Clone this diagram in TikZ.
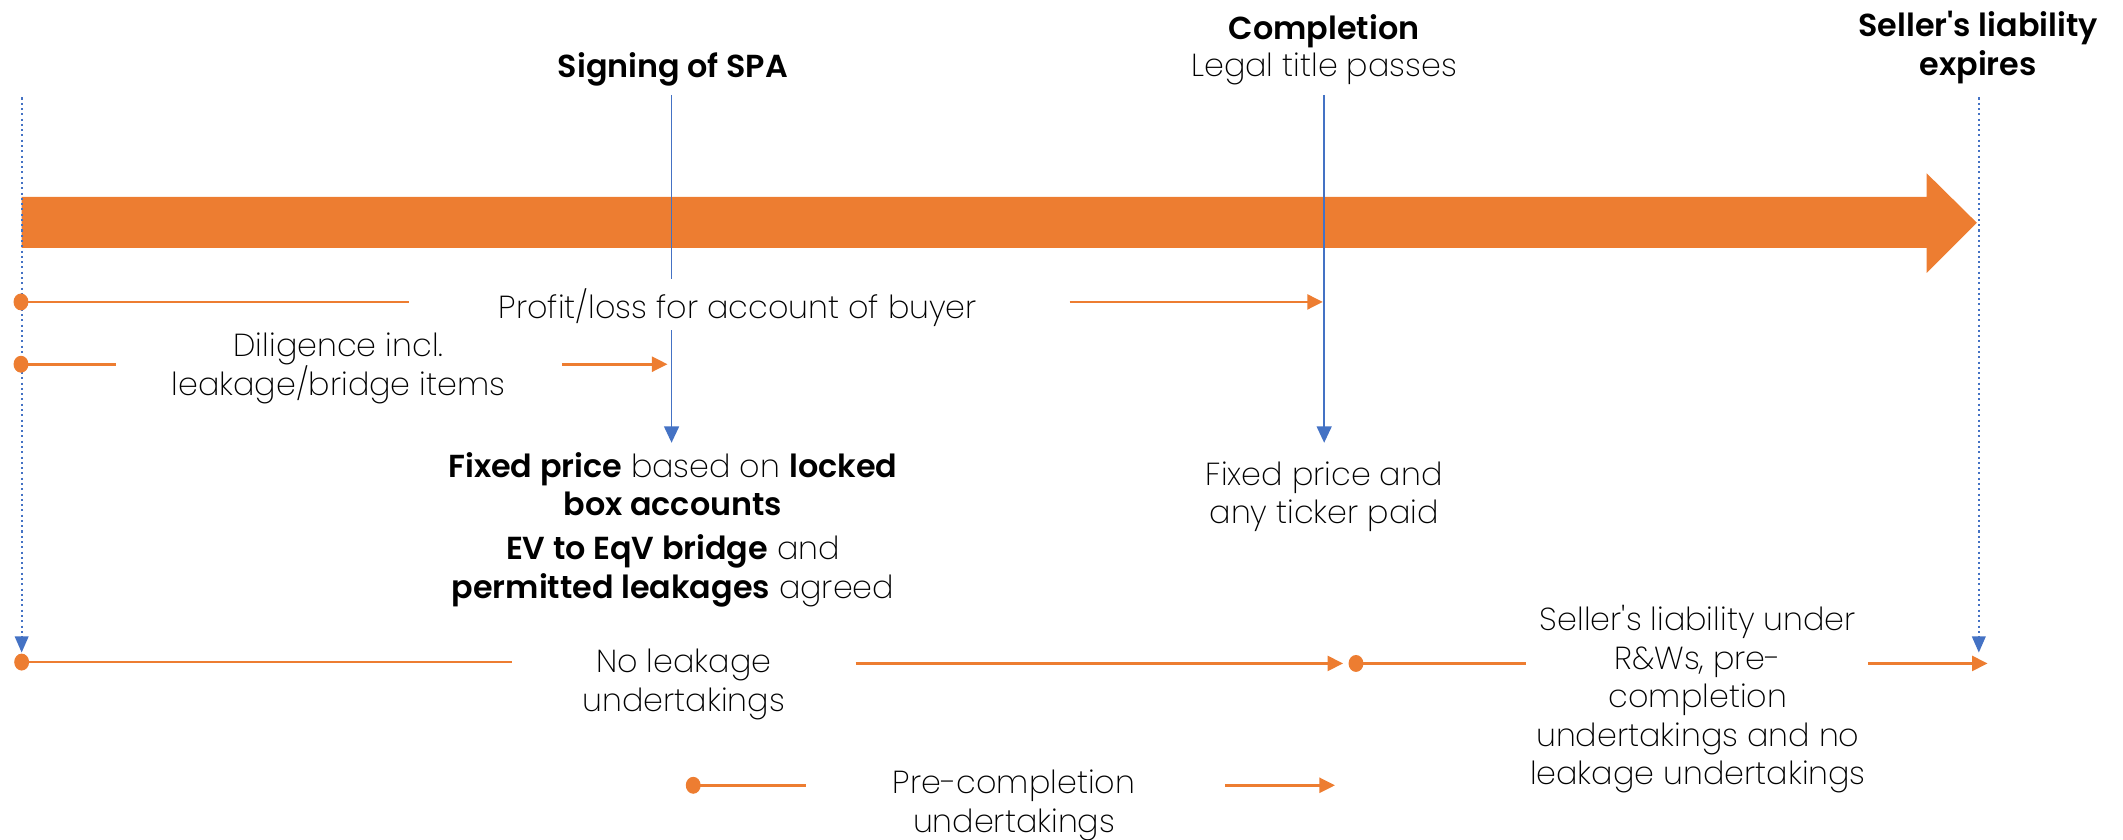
\documentclass[tikz,border=0pt]{standalone}
\usepackage{fontspec}
\setmainfont{Poppins}[UprightFont=* ExtraLight, BoldFont=* SemiBold, Ligatures=TeXOff]
\usetikzlibrary{arrows.meta,shapes.geometric}
\definecolor{tlorange}{HTML}{ED7D31}
\definecolor{tlblue}{HTML}{4472C4}
\begin{document}
\begin{tikzpicture}[x=1pt,y=-1pt,
  txt/.style={align=center,inner sep=0pt,font=\fontsize{23.5}{28.5}\selectfont,text=black},
  oline/.style={draw=tlorange,line width=2pt},
  oarrow/.style={oline,-{Triangle[length=11.5pt,width=11pt]}},
  odot/.style={fill=tlorange,ellipse,minimum width=11pt,minimum height=12.5pt,inner sep=0pt},
  bline/.style={draw=tlblue,line width=1.1pt},
  barrow/.style={bline,-{Triangle[length=12pt,width=11pt]}},
  bdotted/.style={draw=tlblue,line width=1.6pt,dash pattern=on 1.5pt off 2.4pt,-{Triangle[length=12pt,width=10pt]}}]
\useasboundingbox (0,0) rectangle (1568,620);
% main timeline arrow
\fill[tlorange] (16,145.5) -- (1423,145.5) -- (1423,128) -- (1460,164.5) -- (1423,201.5) -- (1423,183) -- (16,183) -- cycle;
% headings
\node[txt] (sign) at (497,51) {\textbf{Signing of SPA}};
\node[txt] (comp) at (978,23) {\textbf{Completion}};
\node[txt] (legal) at (978,51) {Legal title passes};
\node[txt] (expire) at (1461,35) {\textbf{Seller's liability}\\\textbf{expires}};
% texts
\node[txt] (profit) at (545,227.5) {Profit/loss for account of buyer};
\node[txt] (dilig) at (250,272) {Diligence incl.\\leakage/bridge items};
\node[txt] (fixed) at (497,357.5) {\textbf{Fixed price} based on \textbf{locked}\\\textbf{box accounts}};
\node[txt] (bridge) at (497,421.5) {\textbf{EV to EqV bridge} and\\\textbf{permitted leakages} agreed};
\node[txt] (ticker) at (978,367) {Fixed price and\\any ticker paid};
\node[txt] (noleak) at (505,505.5) {No leakage\\undertakings};
\node[txt] (liab) at (1254,516.5) {Seller's liability under\\R\&Ws, pre-\\completion\\undertakings and no\\leakage undertakings};
\node[txt] (precomp) at (749,595) {Pre-completion\\undertakings};
% coordinates
\coordinate (lt) at (16,72);   \coordinate (lb) at (16,482);
\coordinate (rt) at (1461.5,72); \coordinate (rb) at (1461.5,482);
\coordinate (s1) at (496,70);  \coordinate (s2) at (496,206);
\coordinate (s3) at (496,244); \coordinate (s4) at (496,327);
\coordinate (c1) at (978,70);  \coordinate (c2) at (978,327);
\coordinate (p0) at (15.5,223);  \coordinate (p1) at (302,223);
\coordinate (p2) at (790,223); \coordinate (p3) at (977,223);
\coordinate (d0) at (15.5,269);  \coordinate (d1) at (86,269);
\coordinate (d2) at (415,269); \coordinate (d3) at (493,269);
\coordinate (n0) at (16,489);  \coordinate (n1) at (378,489);
\coordinate (n2) at (632,490); \coordinate (n3) at (992,490);
\coordinate (m0) at (1001.5,490); \coordinate (m1) at (1127,490);
\coordinate (m2) at (1380,490); \coordinate (m3) at (1468,490);
\coordinate (q0) at (512,580); \coordinate (q1) at (595,580);
\coordinate (q2) at (905,580); \coordinate (q3) at (986,580);
% blue markers
\draw[bdotted] (lt) -- (lb);
\draw[bdotted] (rt) -- (rb);
\draw[bline] (s1) -- (s2);
\draw[barrow] (s3) -- (s4);
\draw[barrow] (c1) -- (c2);
% orange spans
\draw[oline] (p0) -- (p1); \draw[oarrow] (p2) -- (p3);
\draw[oline] (d0) -- (d1); \draw[oarrow] (d2) -- (d3);
\draw[oline] (n0) -- (n1); \draw[oarrow] (n2) -- (n3);
\draw[oline] (m0) -- (m1); \draw[oarrow] (m2) -- (m3);
\draw[oline] (q0) -- (q1); \draw[oarrow] (q2) -- (q3);
\node[odot] (dp) at (p0) {};
\node[odot] (dd) at (d0) {};
\node[odot] (dn) at (n0) {};
\node[odot] (dm) at (m0) {};
\node[odot] (dq) at (q0) {};
\end{tikzpicture}
\end{document}
